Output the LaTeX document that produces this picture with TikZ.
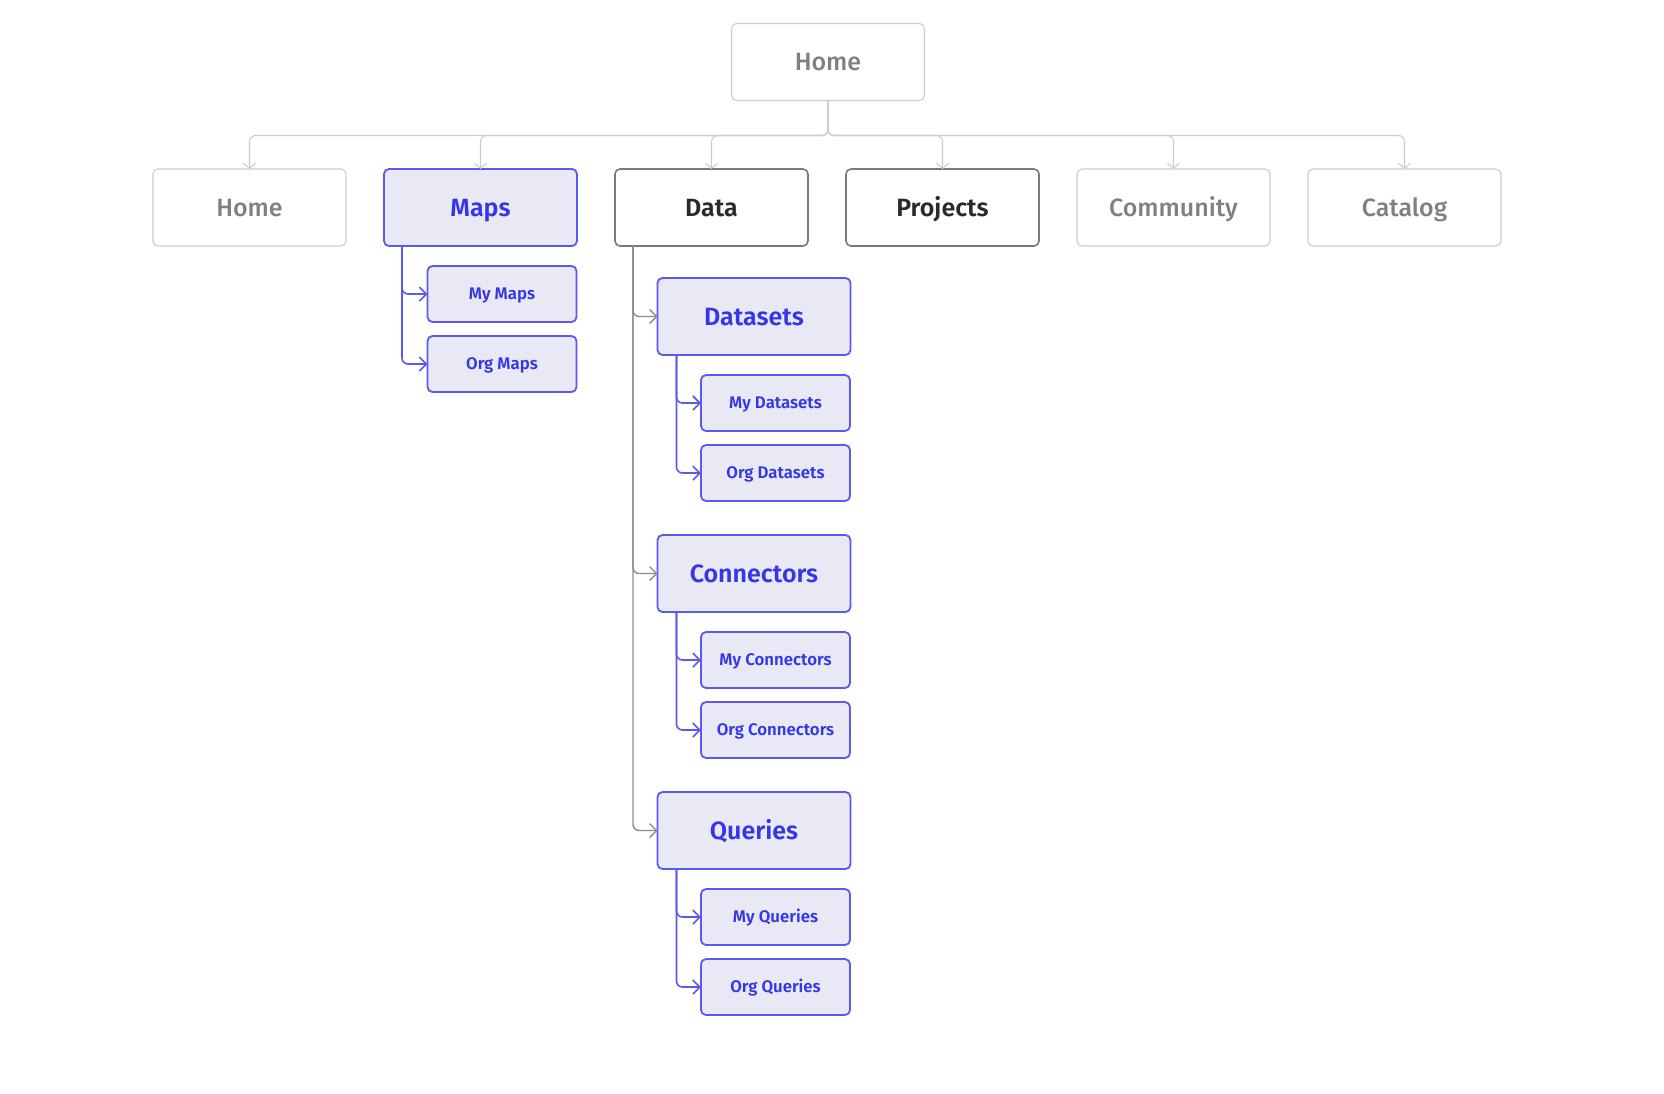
\documentclass[tikz,border=0pt]{standalone}
\usepackage{fontspec}
\setmainfont{Fira Sans}
\newfontfamily\medfont{Fira Sans Medium}
\newfontfamily\semifont{Fira Sans SemiBold}
\usetikzlibrary{positioning,arrows.meta}

\definecolor{lightline}{HTML}{CDCDCD}
\definecolor{greytext}{HTML}{808080}
\definecolor{darkline}{HTML}{7A7A7A}
\definecolor{darktext}{HTML}{2A2A2A}
\definecolor{dataline}{HTML}{8C8C8C}
\definecolor{bluefill}{HTML}{E9E9F5}
\definecolor{blueline}{HTML}{5A5AF2}
\definecolor{bluetext}{HTML}{3535EA}

\begin{document}
\begin{tikzpicture}[x=0.5pt, y=-0.5pt, node distance=115.5pt,
    box/.style={draw, rounded corners=2.5pt, minimum width=96.5pt, minimum height=38.5pt, inner sep=0pt, outer sep=0pt, text height=8.6pt, text depth=0pt},
    greybox/.style={box, draw=lightline, line width=0.55pt, text=greytext, font=\medfont\fontsize{12.5}{14}\selectfont},
    darkbox/.style={box, draw=darkline, line width=0.8pt, text=darktext, font=\semifont\fontsize{12.5}{14}\selectfont},
    bluebox/.style={box, fill=bluefill, draw=blueline, line width=0.9pt, text=bluetext, font=\semifont\fontsize{12.5}{14}\selectfont},
    subbox/.style={bluebox, minimum width=74.5pt, minimum height=28pt, text height=5.8pt, font=\semifont\fontsize{8.4}{10}\selectfont},
    topedge/.style={draw=lightline, line width=0.55pt, rounded corners=3pt, -{Straight Barb[length=2.5pt,width=6pt]}},
    dataedge/.style={draw=dataline, line width=0.7pt, rounded corners=3pt, -{Straight Barb[length=3.5pt,width=7pt]}},
    blueedge/.style={draw=blueline, line width=0.8pt, rounded corners=3pt, -{Straight Barb[length=3.5pt,width=7pt]}}
  ]
  \fill[white] (0,0) rectangle (1664,1093);

  % top of the site
  \node[greybox] (top) at (828,62) {Home};
  \coordinate (bus) at ([yshift=-17.5pt]top.south);

  % main menu
  \node[greybox] (home) at (249.5,207.5) {Home};
  \node[bluebox, right of=home] (maps) {Maps};
  \node[darkbox, right of=maps] (data) {Data};
  \node[darkbox, right of=data] (projects) {Projects};
  \node[greybox, right of=projects] (community) {Community};
  \node[greybox, right of=community] (catalog) {Catalog};

  \foreach \n in {home,maps,data,projects,community,catalog}
    \draw[topedge] (top.south) -- (bus) -| (\n.north);

  % maps
  \node[subbox, below=10pt of maps, xshift=10.75pt] (mymaps) {My Maps};
  \node[subbox, below=7pt of mymaps] (orgmaps) {Org Maps};

  \draw[blueedge] ([xshift=9pt]maps.south west) |- (mymaps.west);
  \draw[blueedge] ([xshift=9pt]maps.south west) |- (orgmaps.west);

  % data
  \node[bluebox, below=16pt of data, xshift=21.25pt] (datasets) {Datasets};
  \node[subbox, below=10pt of datasets, xshift=10.75pt] (mydatasets) {My Datasets};
  \node[subbox, below=7pt of mydatasets] (orgdatasets) {Org Datasets};

  \node[bluebox, below=17pt of orgdatasets, xshift=-10.75pt] (connectors) {Connectors};
  \node[subbox, below=10pt of connectors, xshift=10.75pt] (myconnectors) {My Connectors};
  \node[subbox, below=7pt of myconnectors] (orgconnectors) {Org Connectors};

  \node[bluebox, below=17pt of orgconnectors, xshift=-10.75pt] (queries) {Queries};
  \node[subbox, below=10pt of queries, xshift=10.75pt] (myqueries) {My Queries};
  \node[subbox, below=7pt of myqueries] (orgqueries) {Org Queries};

  \foreach \n in {datasets,connectors,queries}
    \draw[dataedge] ([xshift=9pt]data.south west) |- (\n.west);

  \foreach \p/\a/\b in {datasets/mydatasets/orgdatasets, connectors/myconnectors/orgconnectors, queries/myqueries/orgqueries} {
    \draw[blueedge] ([xshift=9.5pt]\p.south west) |- (\a.west);
    \draw[blueedge] ([xshift=9.5pt]\p.south west) |- (\b.west);
  }
\end{tikzpicture}
\end{document}
